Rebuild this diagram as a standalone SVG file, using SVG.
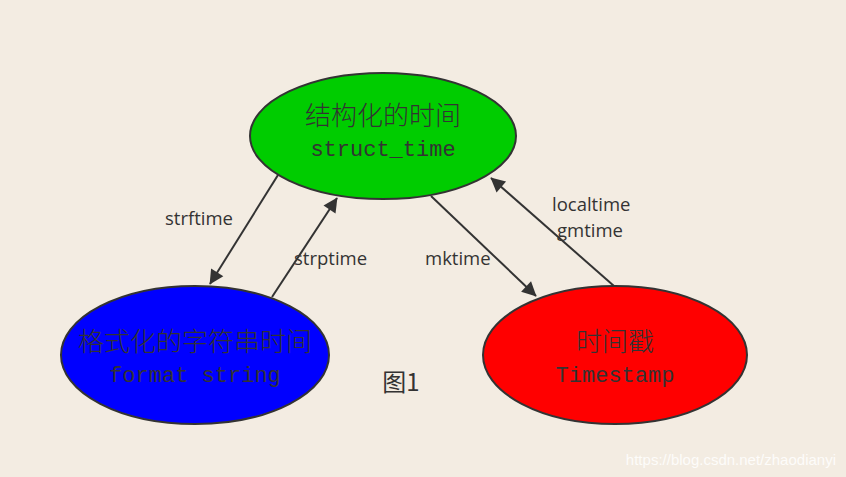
<svg xmlns="http://www.w3.org/2000/svg" width="846" height="477" viewBox="0 0 846 477">
<style>
.node{stroke:#333;stroke-width:2}
.zh{font-family:"Noto Sans CJK SC","Noto Sans",sans-serif;font-size:26px;font-weight:300;fill:#333;text-anchor:middle}
.en{font-family:"Liberation Mono",monospace;font-size:22px;fill:#333;text-anchor:middle}
.lbl{font-family:"Open Sans","Liberation Sans",sans-serif;font-size:18.5px;fill:#333}
.edge{stroke:#333;stroke-width:2;fill:none;marker-end:url(#ah)}
</style>
<defs>
<marker id="ah" viewBox="0 0 10 10" refX="9" refY="5" markerWidth="8" markerHeight="8" markerUnits="userSpaceOnUse" orient="auto" style="overflow:visible">
<path d="M0,0 L10,5 L0,10 z" fill="#333" transform="scale(1.8) translate(-4.5,-2.2)"/>
</marker>
</defs>
<rect width="846" height="477" fill="#f3ece2"/>
<g id="connectors">
<line class="edge" x1="278" y1="175" x2="210" y2="284"/>
<line class="edge" x1="272" y1="297" x2="337" y2="198"/>
<line class="edge" x1="431" y1="196" x2="536" y2="296"/>
<line class="edge" x1="614" y1="286" x2="491" y2="178"/>
<text class="lbl" x="165" y="225">strftime</text>
<text class="lbl" x="294" y="265">strptime</text>
<text class="lbl" x="425" y="265">mktime</text>
<text class="lbl" x="552" y="211">localtime</text>
<text class="lbl" x="557" y="237">gmtime</text>
</g>
<g id="struct_time">
<ellipse class="node" cx="383" cy="136" rx="133" ry="63" fill="#00cc00"/>
<text class="zh" x="383" y="125">结构化的时间</text>
<text class="en" x="383" y="156">struct_time</text>
</g>
<g id="format_string">
<ellipse class="node" cx="195" cy="355" rx="134" ry="69" fill="#0000ff"/>
<text class="zh" x="195" y="351">格式化的字符串时间</text>
<text class="en" x="195" y="382">format string</text>
</g>
<g id="timestamp">
<ellipse class="node" cx="615" cy="355" rx="132" ry="69" fill="#ff0000"/>
<text class="zh" x="615" y="351">时间戳</text>
<text class="en" x="615" y="382">Timestamp</text>
</g>
<text x="401" y="391" font-family="Noto Sans CJK SC, sans-serif" font-size="24" fill="#333" text-anchor="middle">图1</text>
<text x="836" y="465" font-family="Liberation Sans, sans-serif" font-size="15" fill="#ffffff" fill-opacity="0.85" text-anchor="end">https://blog.csdn.net/zhaodianyi</text>
</svg>
